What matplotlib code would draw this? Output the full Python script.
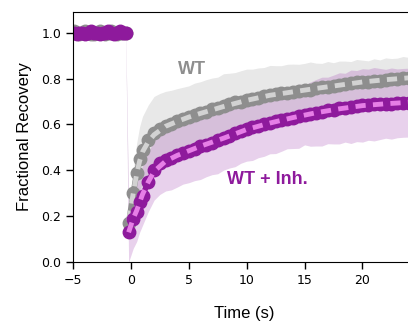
import numpy as np
import matplotlib
matplotlib.use("Agg")
import matplotlib.pyplot as plt

# ---------------------------------------
# Data
# ---------------------------------------
t_pre = [-4.95, -4.7, -4.45, -4.2, -3.95, -3.7, -3.45, -3.2, -2.95, -2.7,
         -2.45, -2.2, -1.95, -1.7, -1.45, -1.2, -0.95, -0.7, -0.45]
wt_pre = [1.005, 1.0, 0.995, 1.0, 1.005, 1.0, 0.995, 0.995, 1.0, 1.005,
          1.0, 0.995, 1.0, 1.005, 1.0, 0.995, 1.0, 1.0, 1.0]
inh_pre = [1.0, 0.995, 1.0, 1.0, 0.995, 1.0, 1.005, 1.0, 1.0, 0.995,
           1.0, 1.0, 1.005, 1.0, 0.995, 1.0, 1.005, 1.0, 1.0]
wt_pre_sd = [0.015] * len(t_pre)
inh_pre_sd = [0.015] * len(t_pre)

t_post = [-0.2, 0.2, 0.5, 0.75, 1.0, 1.5, 2.0, 2.5, 3.0, 3.5, 4.0, 4.5, 5.0,
          5.5, 6.0, 6.5, 7.0, 7.5, 8.0, 8.5, 9.0, 9.5, 10.0, 10.5, 11.0,
          11.5, 12.0, 12.5, 13.0, 13.5, 14.0, 14.5, 15.0, 15.5, 16.0, 16.5,
          17.0, 17.5, 18.0, 18.5, 19.0, 19.5, 20.0, 20.5, 21.0, 21.5, 22.0,
          22.5, 23.0, 23.5, 24.0]
wt_post = [0.17, 0.30, 0.39, 0.45, 0.49, 0.53, 0.562, 0.58, 0.594, 0.604,
           0.616, 0.622, 0.633, 0.64, 0.651, 0.655, 0.667, 0.671, 0.681,
           0.688, 0.696, 0.699, 0.706, 0.711, 0.716, 0.723, 0.727, 0.731,
           0.736, 0.737, 0.743, 0.747, 0.751, 0.752, 0.757, 0.761, 0.764,
           0.769, 0.771, 0.776, 0.779, 0.783, 0.785, 0.787, 0.791, 0.791,
           0.795, 0.797, 0.799, 0.801, 0.802]
wt_post_sd = [0.06, 0.10, 0.13, 0.14, 0.145, 0.155, 0.16, 0.155, 0.15, 0.145,
              0.14, 0.14, 0.135, 0.14, 0.135, 0.14, 0.135, 0.135, 0.14,
              0.135, 0.13, 0.135, 0.135, 0.13, 0.13, 0.125, 0.13, 0.125,
              0.12, 0.125, 0.12, 0.115, 0.115, 0.12, 0.11, 0.105, 0.11,
              0.10, 0.105, 0.10, 0.095, 0.10, 0.095, 0.09, 0.095, 0.09,
              0.095, 0.09, 0.09, 0.095, 0.09]
inh_post = [0.13, 0.19, 0.22, 0.26, 0.29, 0.35, 0.40, 0.43, 0.445, 0.455,
            0.467, 0.475, 0.486, 0.495, 0.505, 0.512, 0.521, 0.53, 0.541,
            0.55, 0.561, 0.571, 0.58, 0.588, 0.595, 0.601, 0.607, 0.613,
            0.618, 0.624, 0.63, 0.636, 0.641, 0.645, 0.651, 0.656, 0.661,
            0.665, 0.67, 0.673, 0.677, 0.68, 0.683, 0.686, 0.688, 0.689,
            0.69, 0.691, 0.692, 0.694, 0.695]
inh_post_sd = [0.13, 0.13, 0.13, 0.13, 0.13, 0.13, 0.13, 0.135, 0.135, 0.14,
               0.14, 0.135, 0.14, 0.14, 0.145, 0.14, 0.14, 0.145, 0.14,
               0.14, 0.145, 0.14, 0.14, 0.145, 0.14, 0.14, 0.135, 0.14,
               0.135, 0.13, 0.135, 0.14, 0.13, 0.14, 0.145, 0.15, 0.145,
               0.15, 0.155, 0.15, 0.16, 0.155, 0.16, 0.155, 0.16, 0.155,
               0.15, 0.155, 0.15, 0.15, 0.15]

# fitted recovery curves
t_fit = [-0.2, 0.2, 0.5, 0.75, 1.0, 1.5, 2.0, 3.0, 4.0, 5.0, 6.0, 8.0, 10.0,
         12.0, 14.0, 16.0, 18.0, 20.0, 22.0, 24.5]
wt_fit = [0.18, 0.30, 0.385, 0.44, 0.48, 0.525, 0.555, 0.592, 0.613, 0.632,
          0.648, 0.678, 0.705, 0.727, 0.742, 0.757, 0.771, 0.785, 0.795, 0.805]
inh_fit = [0.13, 0.19, 0.225, 0.26, 0.295, 0.35, 0.395, 0.44, 0.465, 0.485,
           0.505, 0.54, 0.578, 0.606, 0.63, 0.651, 0.668, 0.682, 0.69, 0.698]

# ---------------------------------------
# Style
# ---------------------------------------
GREY = "#8e8e8e"
GREY_FIT = "#d2d2d2"
PURPLE = "#8e1a9c"
PURPLE_FIT = "#e67ee6"

t_all = np.array(t_pre + t_post)
wt_all = np.array(wt_pre + wt_post)
inh_all = np.array(inh_pre + inh_post)
wt_sd = np.array(wt_pre_sd + wt_post_sd)
inh_sd = np.array(inh_pre_sd + inh_post_sd)

fig = plt.figure(figsize=(4.08, 3.24), dpi=100)
ax = fig.add_axes([0.179, 0.191, 0.84, 0.772])

# error bands
ax.fill_between(t_all, wt_all - wt_sd, wt_all + wt_sd,
                color="#e8e8e8", lw=0)
ax.fill_between(t_all, inh_all - inh_sd, inh_all + inh_sd,
                color="#a040b0", alpha=0.24, lw=0)

# WT data + fit
ax.plot(t_pre, wt_pre, "-o", color=GREY, ms=9, lw=4)
ax.plot(t_post, wt_post, "-o", color=GREY, ms=9, lw=4)
ax.plot(t_fit, wt_fit, "--", color=GREY_FIT, lw=3.5, dashes=(2.1, 1.5))

# WT + Inh. data + fit
ax.plot(t_pre, inh_pre, "-o", color=PURPLE, ms=9, lw=4)
ax.plot(t_post, inh_post, "-o", color=PURPLE, ms=9, lw=4)
ax.plot(t_fit, inh_fit, "--", color=PURPLE_FIT, lw=3.5, dashes=(2.1, 1.5))

ax.text(5.25, 0.838, "WT", color=GREY, fontsize=13, fontweight="bold",
        family="Liberation Sans", ha="center", va="center")
ax.text(11.8, 0.358, "WT + Inh.", color=PURPLE, fontsize=13,
        fontweight="bold", family="Liberation Sans", ha="center", va="center")

ax.set_xlim(-5, 24.6)
ax.set_ylim(0, 1.09)
ax.set_xticks([-5, 0, 5, 10, 15, 20])
ax.set_yticks([0.0, 0.2, 0.4, 0.6, 0.8, 1.0])
ax.tick_params(labelsize=9, length=5, width=1)
ax.spines["right"].set_visible(False)

ax.set_xlabel("Time (s)", fontsize=12, family="Liberation Sans", labelpad=14)
ax.set_ylabel("Fractional Recovery", fontsize=12, family="Liberation Sans",
              labelpad=7)

fig.savefig("out.png", dpi=100)
